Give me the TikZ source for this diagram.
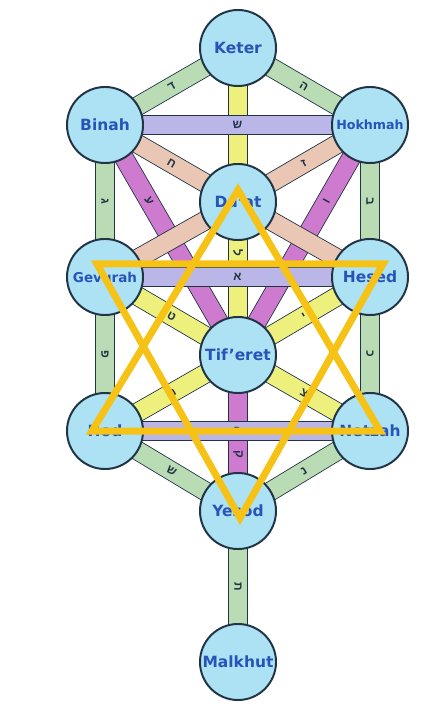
\documentclass[tikz,border=0pt]{standalone}
\usepackage{fontspec}
\setsansfont{DejaVu Sans}
\newfontfamily\hebfont[Script=Hebrew]{Liberation Sans}
\usetikzlibrary{backgrounds}

\definecolor{sefirafill}{RGB}{172,226,244}
\definecolor{sefiraline}{RGB}{32,52,70}
\definecolor{sefiratext}{RGB}{40,84,184}
\definecolor{pathgreen}{RGB}{186,220,180}
\definecolor{pathyellow}{RGB}{238,240,126}
\definecolor{pathlilac}{RGB}{186,182,232}
\definecolor{pathsalmon}{RGB}{234,198,180}
\definecolor{pathmagenta}{RGB}{206,122,206}
\definecolor{stargold}{RGB}{246,194,22}

\begin{document}
\begin{tikzpicture}[x=0.025cm, y=-0.025cm,
  sefira/.style={circle, draw=sefiraline, line width=1.4pt, fill=sefirafill, minimum size=1.9cm, inner sep=0pt, text=sefiratext, font=\sffamily\bfseries\fontsize{11}{12}\selectfont},
  smallname/.style={font=\sffamily\bfseries\fontsize{#1}{10}\selectfont},
  band/.style={draw=sefiraline, line width=0.6pt, double=#1, double distance=0.45cm},
  letter/.style={font=\hebfont\bfseries\fontsize{8.5}{9}\selectfont, text=sefiraline, inner sep=0pt, sloped}]
  \useasboundingbox (0,0) rectangle (432,707);

  % The sefirot
  \node[sefira] (keter) at (238, 48) {Keter};
  \node[sefira] (binah) at (105, 125) {Binah};
  \node[sefira, smallname=9] (hokhmah) at (370, 125) {Hokhmah};
  \node[sefira] (daat) at (238, 202) {Da'at};
  \node[sefira, smallname=9.6] (gevurah) at (105, 277) {Gevurah};
  \node[sefira] (hesed) at (370, 277) {Hesed};
  \node[sefira] (tiferet) at (238, 355) {Tif'eret};
  \node[sefira] (hod) at (105, 431) {Hod};
  \node[sefira] (netzah) at (370, 431) {Netzah};
  \node[sefira] (yesod) at (238, 511) {Yesod};
  \node[sefira] (malkhut) at (238, 662) {Malkhut};

  \begin{pgfonlayer}{background}
    % Magenta paths
    \draw[band=pathmagenta] (binah.center) -- (tiferet.center) node[letter, pos=0.33] {ע};
    \draw[band=pathmagenta] (hokhmah.center) -- (tiferet.center) node[letter, pos=0.33] {ו};
    \draw[band=pathmagenta] (tiferet.center) -- (yesod.center) node[letter, pos=0.64] {ק};

    % Yellow paths
    \draw[band=pathyellow] (keter.center) -- (daat.center);
    \draw[band=pathyellow] (daat.center) -- (tiferet.center) node[letter, pos=0.33] {ל};
    \draw[band=pathyellow] (gevurah.center) -- (tiferet.center) node[letter, midway] {ט};
    \draw[band=pathyellow] (hesed.center) -- (tiferet.center) node[letter, midway] {י};
    \draw[band=pathyellow] (hod.center) -- (tiferet.center) node[letter, midway] {מ};
    \draw[band=pathyellow] (netzah.center) -- (tiferet.center) node[letter, midway] {צ};

    % Green paths
    \draw[band=pathgreen] (keter.center) -- (binah.center) node[letter, midway] {ד};
    \draw[band=pathgreen] (keter.center) -- (hokhmah.center) node[letter, midway] {ה};
    \draw[band=pathgreen] (binah.center) -- (gevurah.center) node[letter, midway] {ג};
    \draw[band=pathgreen] (hokhmah.center) -- (hesed.center) node[letter, midway] {ב};
    \draw[band=pathgreen] (gevurah.center) -- (hod.center) node[letter, midway] {פ};
    \draw[band=pathgreen] (hesed.center) -- (netzah.center) node[letter, midway] {כ};
    \draw[band=pathgreen] (hod.center) -- (yesod.center) node[letter, midway] {ש};
    \draw[band=pathgreen] (netzah.center) -- (yesod.center) node[letter, midway] {נ};
    \draw[band=pathgreen] (yesod.center) -- (malkhut.center) node[letter, midway] {ת};

    % Salmon paths
    \draw[band=pathsalmon] (binah.center) -- (daat.center) node[letter, midway] {ח};
    \draw[band=pathsalmon] (hokhmah.center) -- (daat.center) node[letter, midway] {ז};
    \draw[band=pathsalmon] (daat.center) -- (gevurah.center);
    \draw[band=pathsalmon] (daat.center) -- (hesed.center);

    % Lilac paths
    \draw[band=pathlilac] (binah.center) -- (hokhmah.center) node[letter, midway] {ש};
    \draw[band=pathlilac] (gevurah.center) -- (hesed.center) node[letter, midway] {א};
    \draw[band=pathlilac] (hod.center) -- (netzah.center) node[letter, midway] {ר};
  \end{pgfonlayer}

  % Star over the tree
  \draw[stargold, line width=0.175cm, line join=miter] (238, 190) -- (92, 431) -- (380, 431) -- cycle;
  \draw[stargold, line width=0.175cm, line join=miter] (97, 264) -- (383, 264) -- (240, 518) -- cycle;
\end{tikzpicture}
\end{document}
